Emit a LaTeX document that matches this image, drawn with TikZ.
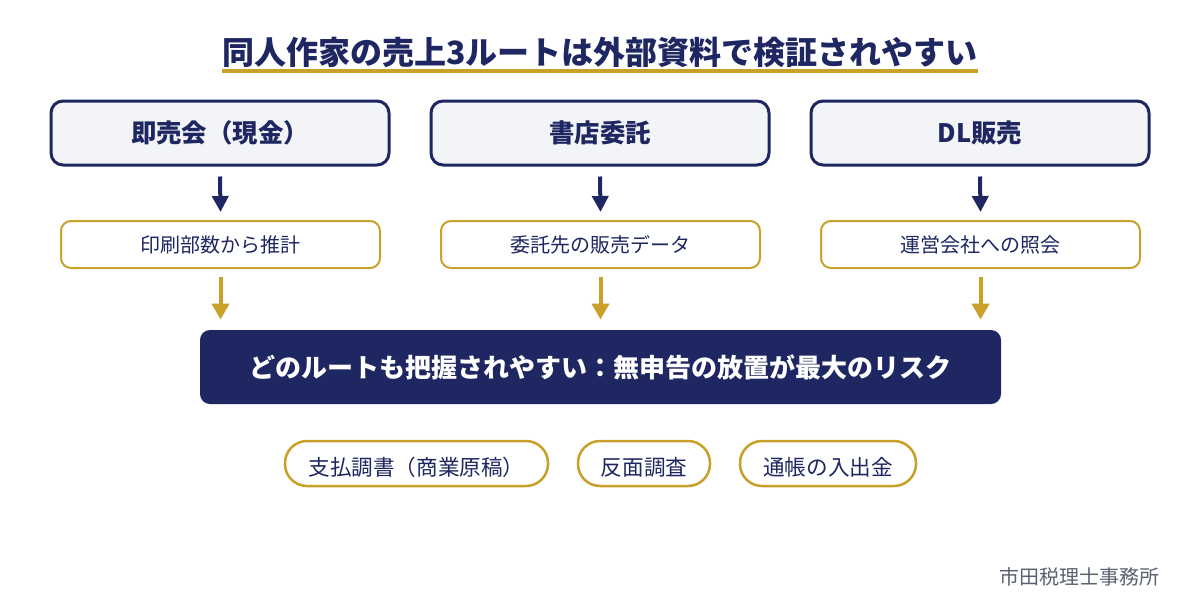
\documentclass[tikz,border=0pt]{standalone}
\usepackage{fontspec}
\setmainfont{Noto Sans CJK JP}
\usetikzlibrary{arrows.meta}
\definecolor{navy}{HTML}{1E2761}
\definecolor{gold}{HTML}{C9A02A}
\definecolor{paleblue}{HTML}{F3F4F8}
\definecolor{footgray}{HTML}{5A6170}
\tikzset{
  topbox/.style={draw=navy,line width=1.5pt,fill=paleblue,rounded corners=6pt,minimum width=169pt,minimum height=32pt,text=navy,font=\fontsize{12.7}{14}\selectfont\bfseries,inner sep=0pt},
  subbox/.style={draw=gold,line width=1pt,fill=white,rounded corners=5pt,minimum width=159.5pt,minimum height=23.5pt,text=navy,font=\fontsize{10}{12}\selectfont,inner sep=0pt},
  mainbox/.style={fill=navy,rounded corners=5pt,minimum width=400.5pt,minimum height=37pt,text=white,font=\fontsize{13}{15}\selectfont\bfseries,inner sep=0pt},
  pill/.style={draw=gold,line width=1.25pt,fill=white,rounded corners=11pt,minimum height=22.5pt,inner sep=0pt},
  pilltext/.style={text=navy,font=\fontsize{10.8}{12}\selectfont,inner sep=0pt},
  navyarrow/.style={draw=navy,line width=2pt,-{Triangle[length=8pt,width=8pt]}},
  goldarrow/.style={draw=gold,line width=2pt,-{Triangle[length=8pt,width=8.5pt]}},
}
\begin{document}
\begin{tikzpicture}[x=0.5pt,y=-0.5pt]
\useasboundingbox[fill=white] (0,0) rectangle (1200,600);
% title
\node[text=navy,font=\fontsize{16}{18}\selectfont\bfseries,inner sep=0pt] (title) at (600,52) {同人作家の売上3ルートは外部資料で検証されやすい};
\draw[gold,line width=2pt] (222,71) -- (978,71);
% top boxes
\node[topbox] (t1) at (220,133) {即売会（現金）};
\node[topbox] (t2) at (600,133) {書店委託};
\node[topbox] (t3) at (980,133) {DL販売};
% sub boxes
\node[subbox] (s1) at (220.5,244.5) {印刷部数から推計};
\node[subbox] (s2) at (600.5,244.5) {委託先の販売データ};
\node[subbox] (s3) at (980.5,244.5) {運営会社への照会};
% main box
\node[mainbox] (m) at (600.5,367) {どのルートも把握されやすい：無申告の放置が最大のリスク};
% arrows
\draw[navyarrow] ([yshift=-5pt]t1.south) -- ([yshift=4pt]s1.north);
\draw[navyarrow] ([yshift=-5pt]t2.south) -- ([yshift=4pt]s2.north);
\draw[navyarrow] ([yshift=-5pt]t3.south) -- ([yshift=4pt]s3.north);
\draw[goldarrow] ([yshift=-4pt]s1.south) -- ([yshift=5pt]m.north -| s1.south);
\draw[goldarrow] ([yshift=-4pt]s2.south) -- ([yshift=5pt]m.north -| s2.south);
\draw[goldarrow] ([yshift=-4pt]s3.south) -- ([yshift=5pt]m.north -| s3.south);
% pills
\node[pill,minimum width=131.5pt] (p1) at (416.5,463.5) {};
\node[pill,minimum width=66pt] (p2) at (644,463.5) {};
\node[pill,minimum width=88pt] (p3) at (828,463.5) {};
\node[pilltext] (p1t) at (416.5,467) {支払調書（商業原稿）};
\node[pilltext] (p2t) at (644,467) {反面調査};
\node[pilltext] (p3t) at (828,467) {通帳の入出金};
% footer
\node[text=footgray,font=\fontsize{10}{12}\selectfont,anchor=east,inner sep=0pt] (foot) at (1160,577) {市田税理士事務所};
\end{tikzpicture}
\end{document}
